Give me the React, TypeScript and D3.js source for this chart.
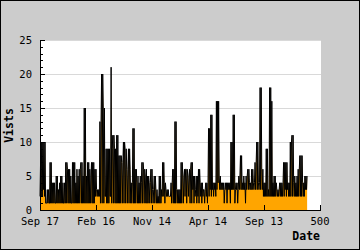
import React from "react";
import * as d3 from "d3";

const visits: number[] = [
  2, 7, 2, 10, 2, 10, 3, 10, 2, 10, 1, 1, 1, 3, 1, 3, 1, 1, 7, 1,
  7, 1, 4, 1, 4, 1, 4, 1, 1, 5, 1, 5, 1, 3, 1, 4, 1, 5, 1, 5,
  1, 4, 1, 1, 4, 1, 7, 1, 7, 6, 1, 6, 1, 6, 1, 5, 1, 1, 7, 1,
  7, 1, 7, 1, 4, 1, 6, 1, 5, 1, 6, 1, 6, 7, 1, 7, 1, 5, 1, 15,
  1, 15, 1, 5, 1, 7, 1, 7, 1, 6, 1, 5, 7, 1, 7, 1, 7, 1, 6, 2,
  6, 3, 2, 3, 2, 3, 2, 13, 1, 13, 20, 1, 20, 15, 1, 15, 2, 2, 9, 1,
  9, 1, 9, 1, 9, 2, 2, 21, 1, 9, 11, 1, 11, 9, 1, 9, 1, 11, 1, 11,
  1, 8, 1, 8, 1, 8, 7, 1, 7, 10, 1, 10, 9, 1, 9, 6, 1, 6, 9, 1,
  9, 6, 1, 4, 1, 4, 12, 1, 12, 1, 6, 1, 6, 4, 1, 5, 1, 4, 1, 5,
  1, 4, 7, 1, 7, 6, 1, 6, 5, 1, 6, 1, 5, 1, 5, 4, 1, 4, 6, 1,
  6, 3, 1, 3, 5, 1, 5, 3, 1, 3, 1, 2, 1, 5, 1, 5, 1, 3, 2, 7,
  2, 7, 4, 1, 4, 3, 2, 3, 2, 3, 2, 2, 2, 2, 4, 1, 4, 6, 1, 6,
  1, 13, 1, 13, 3, 1, 3, 1, 3, 1, 3, 1, 7, 1, 7, 5, 1, 5, 6, 2,
  6, 6, 1, 6, 5, 2, 5, 6, 1, 6, 7, 1, 7, 3, 5, 1, 5, 2, 3, 5,
  1, 5, 2, 6, 1, 6, 4, 2, 4, 1, 4, 2, 3, 3, 1, 3, 4, 2, 4, 1,
  4, 12, 2, 12, 3, 14, 2, 14, 3, 4, 2, 4, 3, 4, 2, 16, 3, 16, 4, 16,
  5, 3, 5, 3, 4, 3, 4, 3, 4, 1, 3, 4, 3, 4, 1, 4, 3, 4, 3, 4,
  1, 10, 3, 10, 3, 14, 3, 14, 1, 3, 4, 3, 4, 1, 3, 5, 3, 5, 8, 3,
  8, 3, 4, 3, 5, 3, 4, 1, 5, 3, 5, 6, 3, 6, 4, 3, 4, 3, 6, 3,
  6, 4, 3, 4, 7, 3, 7, 10, 3, 10, 4, 3, 4, 18, 3, 18, 6, 3, 6, 2,
  4, 2, 4, 2, 9, 2, 9, 2, 3, 2, 18, 2, 18, 2, 16, 2, 4, 2, 5, 2,
  5, 2, 4, 3, 2, 3, 2, 3, 4, 2, 4, 2, 4, 2, 4, 7, 2, 7, 3, 7,
  2, 7, 3, 4, 2, 4, 2, 10, 2, 10, 11, 2, 11, 4, 2, 5, 2, 4, 2, 5,
  2, 6, 2, 6, 8, 2, 8, 2, 8, 4, 2, 4, 2, 5, 3, 5, 3, 5
];

const xTickValues = [0, 100, 200, 300, 400, 500];
const xTickLabels = ["Sep 17", "Feb 16", "Nov 14", "Apr 14", "Sep 13", "500"];
const yTickValues = [0, 5, 10, 15, 20, 25];
const yMinorValues = d3.range(0, 26);

const W = 360;
const H = 250;
const L = 40;
const R = 320;
const T = 40;
const B = 210;

export default function App() {
  const x = d3.scaleLinear().domain([0, 500]).range([L, R]);
  const y = d3.scaleLinear().domain([0, 25]).range([B, T]);

  const area = d3
    .area<number>()
    .x((_, i) => x(i))
    .y0(y(0))
    .y1((d) => y(d));
  const line = d3
    .line<number>()
    .x((_, i) => x(i))
    .y((d) => y(d));

  const mono = "'DejaVu Sans Mono', monospace";

  return (
    <svg
      width={W}
      height={H}
      style={{ position: "absolute", left: 0, top: 0 }}
    >
      <rect x={0} y={0} width={W} height={H} fill="#cccccc" />
      <rect x={0.5} y={0.5} width={W - 1} height={H - 1} fill="none" stroke="#000" />
      <rect x={L} y={T} width={R - L + 1} height={B - T} fill="#ffffff" />
      {yTickValues
        .filter((v) => v > 0)
        .map((v) => (
          <line
            key={"g" + v}
            x1={L}
            x2={R + 1}
            y1={Math.round(y(v)) + 0.5}
            y2={Math.round(y(v)) + 0.5}
            stroke="#d9d9d9"
          />
        ))}
      <path d={area(visits) || ""} fill="#ffa500" />
      <path d={line(visits) || ""} fill="none" stroke="#000" strokeWidth={1} />
      {/* y axis */}
      <line x1={L + 0.5} x2={L + 0.5} y1={T} y2={B + 1} stroke="#000" />
      {yMinorValues.map((v) => (
        <line
          key={"m" + v}
          x1={L}
          x2={L + (v % 5 === 0 ? 5 : 3)}
          y1={Math.round(y(v)) + 0.5}
          y2={Math.round(y(v)) + 0.5}
          stroke="#000"
        />
      ))}
      {yTickValues.map((v) => (
        <text
          key={"yl" + v}
          x={32}
          y={y(v)}
          dy="0.35em"
          textAnchor="end"
          fontFamily={mono}
          fontSize={10.5}
          fill="#000"
        >
          {v}
        </text>
      ))}
      {/* x axis */}
      <line x1={L} x2={R + 1} y1={B + 0.5} y2={B + 0.5} stroke="#000" />
      {xTickValues.map((v, i) => (
        <g key={"xt" + v}>
          <line
            x1={Math.round(x(v)) + 0.5}
            x2={Math.round(x(v)) + 0.5}
            y1={B}
            y2={B - 5}
            stroke="#000"
          />
          <text
            x={x(v)}
            y={225}
            textAnchor="middle"
            fontFamily={mono}
            fontSize={10.5}
            fill="#000"
          >
            {xTickLabels[i]}
          </text>
        </g>
      ))}
      <text
        x={320}
        y={240}
        textAnchor="end"
        fontFamily={mono}
        fontWeight="bold"
        fontSize={11.5}
        fill="#000"
      >
        Date
      </text>
      <text
        transform={`translate(13,125.5) rotate(-90)`}
        textAnchor="middle"
        fontFamily={mono}
        fontWeight="bold"
        fontSize={11.5}
        fill="#000"
      >
        Vists
      </text>
    </svg>
  );
}
